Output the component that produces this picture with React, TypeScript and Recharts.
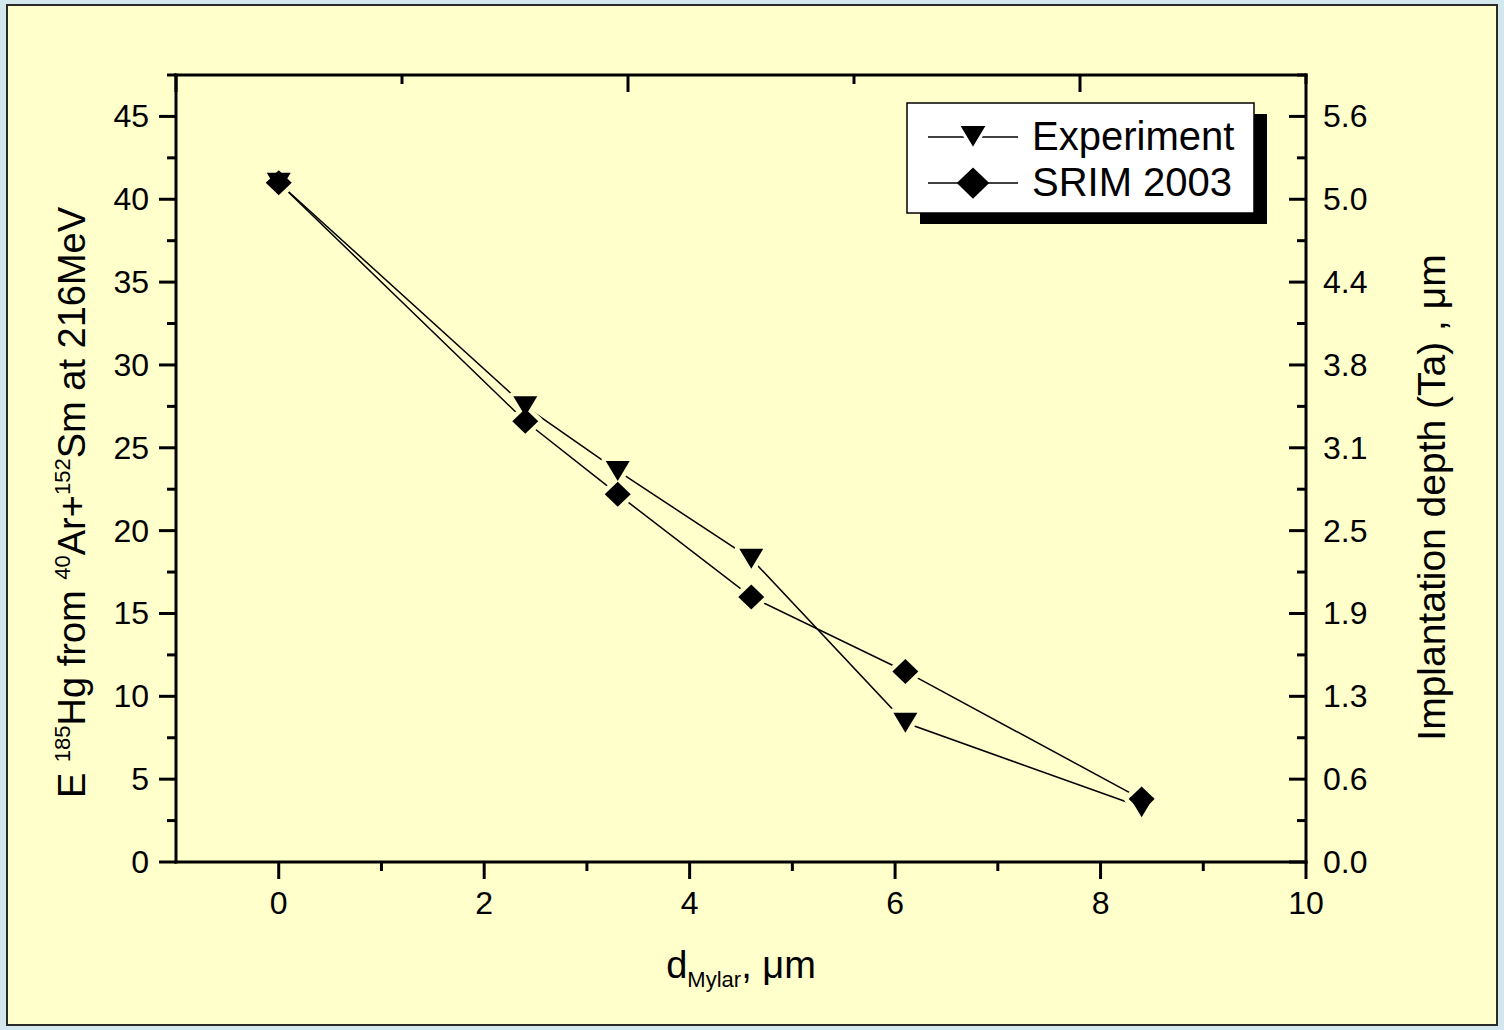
import { LineChart, Line, XAxis, YAxis, Label } from 'recharts'

const FONT = '"Liberation Sans", Arial, sans-serif'
const PANEL = '#FFFFCC'

// Mylar absorber thickness, µm
const thickness = [0, 2.4, 3.3, 4.6, 6.1, 8.4]
// Recoil energy of 185Hg, MeV
const experiment = [41.0, 27.5, 23.6, 18.3, 8.4, 3.3]
const srim2003 = [41.0, 26.6, 22.2, 16.0, 11.5, 3.8]

const xMajor = [0, 2, 4, 6, 8, 10]
const xMinor = [1, 3, 5, 7, 9]
const eMajor = [0, 5, 10, 15, 20, 25, 30, 35, 40, 45]
const eMinor = [2.5, 7.5, 12.5, 17.5, 22.5, 27.5, 32.5, 37.5, 42.5, 47.5]
const depthTicks = [0, 0.625, 1.25, 1.875, 2.5, 3.125, 3.75, 4.375, 5.0, 5.625]

const E_MAX = 47.5
const DEPTH_PER_MEV = 0.125

const seriesNames = ['Experiment', 'SRIM 2003']

const rows = thickness.map((x, i) => ({ x, exp: experiment[i], srim: srim2003[i] }))

const xAll = [...xMajor, ...xMinor].sort((a, b) => a - b)
const eAll = [...eMajor, ...eMinor].sort((a, b) => a - b)

type Shape = 'tri' | 'dia'

function markerPath(shape: Shape, cx: number, cy: number, scale = 1) {
	if (shape === 'tri') {
		const w = 12 * scale
		const h = 10 * scale
		return `M${cx - w},${cy - h}L${cx + w},${cy - h}L${cx},${cy + h}Z`
	}
	const w = 13 * scale
	const h = 12.5 * scale
	return `M${cx},${cy - h}L${cx + w},${cy}L${cx},${cy + h}L${cx - w},${cy}Z`
}

// background-coloured copy of the marker, so the connecting lines stop short of it
const halo = (shape: Shape) => (p: any) => (
	<path
		key={`halo-${shape}-${p.index}`}
		d={markerPath(shape, p.cx, p.cy)}
		fill={PANEL}
		stroke={PANEL}
		strokeWidth={9}
		strokeLinejoin="round"
	/>
)

const marker = (shape: Shape) => (p: any) => (
	<path key={`mark-${shape}-${p.index}`} d={markerPath(shape, p.cx, p.cy)} fill="#000" />
)

const TICK_W = 3
const MAJOR = 17
const MINOR = 9

// ticks are drawn by hand so major and minor marks can share one axis
const BottomTick = (p: any) => {
	const major = xMajor.includes(p.payload.value)
	return (
		<g>
			<line x1={p.x} x2={p.x} y1={p.y} y2={p.y + (major ? MAJOR : MINOR)} stroke="#000" strokeWidth={TICK_W} />
			{major && (
				<text x={p.x} y={p.y + 52} textAnchor="middle" fontSize={32} fontFamily={FONT} fill="#000">
					{p.payload.value}
				</text>
			)}
		</g>
	)
}

const TopTick = (p: any) => {
	const major = xMajor.includes(p.payload.value)
	return (
		<line x1={p.x} x2={p.x} y1={p.y} y2={p.y + (major ? MAJOR : MINOR)} stroke="#000" strokeWidth={TICK_W} />
	)
}

const LeftTick = (p: any) => {
	const major = eMajor.includes(p.payload.value)
	return (
		<g>
			<line x1={p.x} x2={p.x - (major ? MAJOR : MINOR)} y1={p.y} y2={p.y} stroke="#000" strokeWidth={TICK_W} />
			{major && (
				<text x={p.x - 27} y={p.y + 11} textAnchor="end" fontSize={32} fontFamily={FONT} fill="#000">
					{p.payload.value}
				</text>
			)}
		</g>
	)
}

const RightTick = (p: any) => {
	const major = eMajor.includes(p.payload.value)
	return (
		<line x1={p.x} x2={p.x - (major ? MAJOR : MINOR)} y1={p.y} y2={p.y} stroke="#000" strokeWidth={TICK_W} />
	)
}

const DepthTick = (p: any) => (
	<text x={p.x + 17} y={p.y + 11} textAnchor="start" fontSize={32} fontFamily={FONT} fill="#000">
		{p.payload.value.toFixed(1)}
	</text>
)

const LeftTitle = (p: any) => {
	const vb = p.viewBox
	const x = vb.x + vb.width - 91
	const y = vb.y + vb.height / 2 + 34
	return (
		<text
			x={x}
			y={y}
			transform={`rotate(-90 ${x} ${y})`}
			textAnchor="middle"
			fontSize={38}
			fontFamily={FONT}
			fill="#000"
		>
			{'E '}
			<tspan fontSize={22} dy={-15}>185</tspan>
			<tspan dy={15}>Hg from </tspan>
			<tspan fontSize={22} dy={-15}>40</tspan>
			<tspan dy={15}>Ar+</tspan>
			<tspan fontSize={22} dy={-15}>152</tspan>
			<tspan dy={15}>Sm at 216MeV</tspan>
		</text>
	)
}

const RightTitle = (p: any) => {
	const vb = p.viewBox
	const x = vb.x + 139
	const y = vb.y + vb.height / 2 + 29
	return (
		<text
			x={x}
			y={y}
			transform={`rotate(-90 ${x} ${y})`}
			textAnchor="middle"
			fontSize={39}
			fontFamily={FONT}
			fill="#000"
		>
			Implantation depth (Ta) , μm
		</text>
	)
}

const BottomTitle = (p: any) => {
	const vb = p.viewBox
	const x = vb.x + vb.width / 2
	const y = vb.y + 116
	return (
		<text x={x} y={y} textAnchor="middle" fontSize={38} fontFamily={FONT} fill="#000">
			d
			<tspan fontSize={22} dy={9}>Mylar</tspan>
			<tspan dy={-9}>, μm</tspan>
		</text>
	)
}

const axisLine = { stroke: '#000', strokeWidth: TICK_W, strokeLinecap: 'square' as const }

function ChartLegend() {
	const shapes: Shape[] = ['tri', 'dia']
	return (
		<svg
			width={1504}
			height={1030}
			style={{ position: 'absolute', left: 0, top: 0, pointerEvents: 'none' }}
		>
			<rect x={920} y={114} width={347} height={110} fill="#000" />
			<rect x={907} y={103} width={347} height={110} fill="#fff" stroke="#000" strokeWidth={1.5} />
			{seriesNames.map((name, i) => {
				const cy = 137 + i * 46
				return (
					<g key={name}>
						<line x1={928} x2={1018} y1={cy} y2={cy} stroke="#000" strokeWidth={1.3} />
						<path d={markerPath(shapes[i], 973, cy, 1.25)} fill="#000" stroke="#fff" strokeWidth={i === 0 ? 3 : 0} />
						<text x={1032} y={cy + 13} fontSize={40} fontFamily={FONT} fill="#000">
							{name}
						</text>
					</g>
				)
			})}
		</svg>
	)
}

export default function App() {
	return (
		<div style={{ position: 'absolute', left: 0, top: 0, width: 1504, height: 1030, background: '#D3E8ED' }}>
			<div
				style={{
					position: 'absolute',
					left: 6,
					top: 4,
					width: 1492,
					height: 1022,
					boxSizing: 'border-box',
					border: '2px solid #2a2a2a',
					background: PANEL,
				}}
			/>
			<div style={{ position: 'absolute', left: 0, top: 0 }}>
				<LineChart
					width={1504}
					height={1030}
					data={rows}
					margin={{ top: 75, left: 175, right: 197, bottom: 167 }}
				>
					<XAxis xAxisId="xb" dataKey="x" type="number" domain={[-1, 10]} allowDataOverflow ticks={xAll}
						interval={0} height={1} tickSize={0} tickMargin={0} tickLine={false} axisLine={axisLine} tick={BottomTick}>
						<Label content={BottomTitle} />
					</XAxis>
					<XAxis xAxisId="xt" orientation="top" mirror type="number" domain={[-1, 10]} allowDataOverflow
						ticks={xAll} interval={0} height={1} tickSize={0} tickMargin={0} tickLine={false} axisLine={axisLine} tick={TopTick} />
					<YAxis yAxisId="yl" type="number" domain={[0, E_MAX]} allowDataOverflow ticks={eAll} interval={0}
						width={1} tickSize={0} tickMargin={0} tickLine={false} axisLine={axisLine} tick={LeftTick}>
						<Label content={LeftTitle} />
					</YAxis>
					<YAxis yAxisId="yr" orientation="right" mirror type="number" domain={[0, E_MAX]} allowDataOverflow
						ticks={eAll} interval={0} width={1} tickSize={0} tickMargin={0} tickLine={false} axisLine={axisLine} tick={RightTick} />
					<YAxis yAxisId="depth" orientation="right" type="number" domain={[0, E_MAX * DEPTH_PER_MEV]} allowDataOverflow
						ticks={depthTicks} interval={0} width={1} tickSize={0} tickMargin={0} tickLine={false} axisLine={false}
						tick={DepthTick}>
						<Label content={RightTitle} />
					</YAxis>

					<Line xAxisId="xb" yAxisId="yl" dataKey="exp" stroke="#000" strokeWidth={1.5} dot={false}
						activeDot={false} isAnimationActive={false} />
					<Line xAxisId="xb" yAxisId="yl" dataKey="srim" stroke="#000" strokeWidth={1.5} dot={false}
						activeDot={false} isAnimationActive={false} />
					<Line xAxisId="xb" yAxisId="yl" dataKey="exp" stroke="none" dot={halo('tri')}
						activeDot={false} isAnimationActive={false} />
					<Line xAxisId="xb" yAxisId="yl" dataKey="srim" stroke="none" dot={halo('dia')}
						activeDot={false} isAnimationActive={false} />
					<Line xAxisId="xb" yAxisId="yl" dataKey="exp" stroke="none" dot={marker('tri')}
						activeDot={false} isAnimationActive={false} />
					<Line xAxisId="xb" yAxisId="yl" dataKey="srim" stroke="none" dot={marker('dia')}
						activeDot={false} isAnimationActive={false} />
				</LineChart>
			</div>
			<ChartLegend />
		</div>
	)
}
